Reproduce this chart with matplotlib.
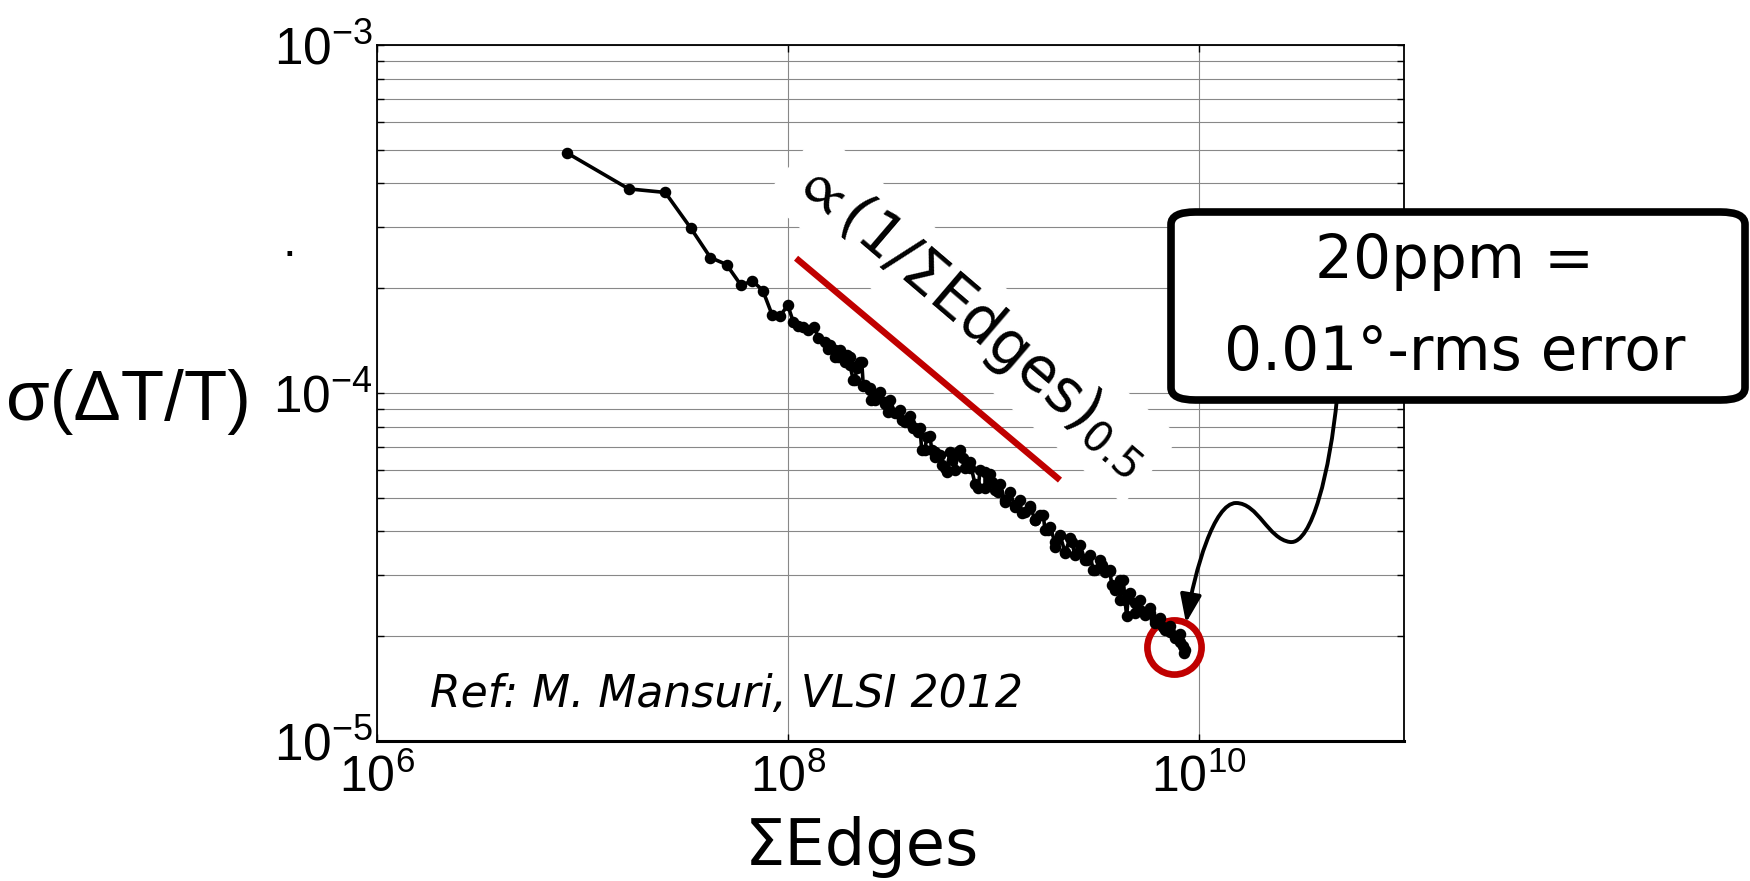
import numpy as np
import matplotlib.pyplot as plt
from matplotlib.patches import FancyBboxPatch, FancyArrowPatch
from matplotlib.path import Path
from matplotlib.ticker import LogLocator, NullFormatter, NullLocator

# sigma(dT/T) vs cumulative edges
edges = [8.40e6, 1.68e7, 2.53e7, 3.38e7, 4.20e7, 5.03e7, 5.92e7, 6.73e7,
         7.56e7, 8.41e7, 9.16e7, 9.99e7, 1.064e8, 1.125e8, 1.19e8, 1.259e8,
         1.346e8, 1.408e8, 1.518e8, 1.575e8, 1.697e8, 1.761e8, 1.936e8,
         2.009e8, 2.084e8, 2.165e8, 2.29e8, 2.331e8, 2.513e8, 2.55e8,
         2.759e8, 2.974e8, 3.086e8, 3.39e8, 3.585e8, 3.935e8, 4.083e8,
         4.318e8, 4.746e8, 4.488e8, 5.02e8, 5.21e8, 5.615e8, 5.938e8,
         6.281e8, 6.762e8, 7.151e8, 7.709e8, 8.462e8, 9.12e8, 9.83e8,
         1.059e9, 1.141e9, 1.277e9, 1.376e9, 1.511e9, 1.598e9, 1.753e9,
         1.854e9, 2.0e9, 2.237e9, 2.411e9, 2.55e9, 2.852e9, 3.072e9,
         3.375e9, 3.704e9, 3.775e9, 4.299e9, 4.143e9, 4.548e9, 4.90e9,
         4.466e9, 5.184e9, 5.80e9, 6.133e9, 6.731e9, 7.26e9, 7.824e9,
         8.12e9, 8.42e9, 8.45e9]
sigma = [4.90e-4, 3.86e-4, 3.77e-4, 2.97e-4, 2.45e-4, 2.34e-4, 2.04e-4, 2.10e-4,
         1.97e-4, 1.67e-4, 1.66e-4, 1.79e-4, 1.60e-4, 1.56e-4, 1.55e-4, 1.52e-4,
         1.55e-4, 1.44e-4, 1.40e-4, 1.34e-4, 1.33e-4, 1.27e-4, 1.29e-4,
         1.20e-4, 1.09e-4, 1.18e-4, 1.23e-4, 1.05e-4, 1.02e-4, 9.55e-5,
         9.87e-5, 9.44e-5, 8.84e-5, 8.74e-5, 8.36e-5, 8.18e-5, 7.92e-5,
         7.74e-5, 7.49e-5, 6.86e-5, 6.86e-5, 6.56e-5, 6.21e-5, 5.94e-5,
         6.42e-5, 6.78e-5, 6.49e-5, 6.08e-5, 5.32e-5, 5.94e-5, 5.56e-5,
         5.20e-5, 4.87e-5, 4.71e-5, 4.51e-5, 4.66e-5, 4.32e-5, 4.46e-5,
         4.04e-5, 3.62e-5, 3.46e-5, 3.74e-5, 3.46e-5, 3.31e-5, 3.10e-5,
         3.20e-5, 3.07e-5, 2.81e-5, 2.90e-5, 2.54e-5, 2.63e-5, 2.49e-5,
         2.28e-5, 2.38e-5, 2.33e-5, 2.18e-5, 2.13e-5, 2.06e-5, 1.99e-5,
         1.93e-5, 1.87e-5, 1.79e-5]

# extra samples inside the dense band (upper / lower edge of the scatter)
edges_band = [1.605e8, 1.697e8, 1.795e8, 1.899e8, 2.008e8, 2.124e8, 2.246e8, 2.376e8,
              2.513e8, 2.658e8, 2.811e8, 2.973e8, 3.145e8, 3.326e8, 3.518e8, 3.720e8,
              3.936e8, 4.162e8, 4.401e8, 4.656e8, 4.923e8, 5.208e8, 5.508e8, 5.825e8,
              6.161e8, 6.516e8, 6.892e8, 7.290e8, 7.709e8, 8.154e8, 8.623e8, 9.123e8,
              9.647e8, 1.020e9, 1.079e9, 1.141e9, 1.207e9, 1.277e9, 1.350e9, 1.428e9,
              1.511e9, 1.598e9, 1.690e9, 1.787e9, 1.890e9, 1.999e9, 2.114e9, 2.236e9,
              2.365e9, 2.502e9, 2.646e9, 2.798e9, 2.959e9, 3.131e9, 3.311e9, 3.502e9,
              3.703e9, 3.917e9, 4.142e9, 4.382e9, 4.634e9, 4.901e9, 5.183e9, 5.483e9,
              5.799e9, 6.133e9, 6.486e9, 6.860e9, 7.256e9, 7.674e9, 8.116e9, 8.585e9]
sigma_band = [1.373e-4, 1.269e-4, 1.329e-4, 1.228e-4, 1.269e-4, 1.090e-4, 1.228e-4, 1.054e-4,
              1.033e-4, 9.55e-5, 1.007e-4, 9.30e-5, 9.55e-5, 8.76e-5, 8.94e-5, 8.25e-5,
              8.59e-5, 7.93e-5, 7.93e-5, 6.86e-5, 7.52e-5, 6.77e-5, 6.63e-5, 6.09e-5,
              6.77e-5, 6.01e-5, 6.86e-5, 6.09e-5, 6.33e-5, 5.48e-5, 6.01e-5, 5.33e-5,
              5.85e-5, 5.26e-5, 5.48e-5, 4.93e-5, 5.19e-5, 4.77e-5, 4.93e-5, 4.55e-5,
              4.73e-5, 4.32e-5, 4.46e-5, 4.04e-5, 4.12e-5, 3.73e-5, 3.91e-5, 3.49e-5,
              3.83e-5, 3.42e-5, 3.66e-5, 3.31e-5, 3.42e-5, 3.10e-5, 3.31e-5, 3.06e-5,
              3.10e-5, 2.72e-5, 2.90e-5, 2.54e-5, 2.66e-5, 2.33e-5, 2.54e-5, 2.30e-5,
              2.41e-5, 2.23e-5, 2.26e-5, 2.08e-5, 2.14e-5, 1.98e-5, 2.03e-5, 1.83e-5]

# 1/sqrt(N) guide line and the highlighted end point
guide_x = [1.097e8, 2.114e9]
guide_y = [2.44e-4, 5.62e-5]
ring_x, ring_y = 7.59e9, 1.86e-5

W, H = 1750, 881
red = '#C00000'

plt.rcParams['font.family'] = ['Liberation Sans', 'DejaVu Sans']
plt.rcParams['axes.unicode_minus'] = False

# cumulative edge count is monotonic, so order all samples by it
ex = np.array(edges + edges_band)
sy = np.array(sigma + sigma_band)
order = np.argsort(ex, kind='stable')
ex, sy = ex[order], sy[order]

fig = plt.figure(figsize=(W / 100, H / 100), dpi=100)
ax = fig.add_axes([377 / W, 1 - 741 / H, (1404 - 377) / W, (741 - 45) / H])
ax.set_xscale('log')
ax.set_yscale('log')
ax.set_xlim(1e6, 1e11)
ax.set_ylim(1e-5, 1e-3)
ax.set_xticks([1e6, 1e8, 1e10])
ax.xaxis.set_minor_locator(NullLocator())
ax.yaxis.set_major_locator(LogLocator(10))
ax.yaxis.set_minor_locator(LogLocator(10, subs=np.arange(2, 10)))
ax.yaxis.set_minor_formatter(NullFormatter())
ax.set_axisbelow(True)
ax.grid(True, which='major', color='#888888', lw=0.8)
ax.grid(True, which='minor', axis='y', color='#888888', lw=0.8)
ax.tick_params(which='both', direction='in', top=True, right=True,
               length=5, width=1.0, color='black')
ax.tick_params(axis='y', pad=3, labelsize=37)
ax.tick_params(axis='x', pad=9, labelsize=36)
for side in ['left', 'right', 'top']:
    ax.spines[side].set_linewidth(1.3)
ax.spines['bottom'].set_linewidth(2.2)

ax.plot(ring_x, ring_y, 'o', ms=39, mfc='none', mec=red, mew=4.8, zorder=4)
ax.plot(ex, sy, '-o', color='black', lw=2.6, ms=7.3, zorder=5)
ax.plot(guide_x, guide_y, color=red, lw=4.6, solid_capstyle='butt', zorder=4)

ax.text(972 / W, 1 - 317 / H, r'$\propto$(1/' + '\u03a3' + r'Edges)$_{\mathdefault{0.5}}$',
        transform=fig.transFigure, rotation=-40.5, rotation_mode='anchor',
        ha='center', va='center', fontsize=43, family='DejaVu Sans',
        math_fontfamily='stixsans',
        bbox=dict(facecolor='white', edgecolor='none', pad=9), zorder=3)

fig.text(430 / W, 1 - 707 / H, 'Ref: M. Mansuri, VLSI 2012', fontsize=31.8,
         family='DejaVu Sans', style='italic', ha='left', va='baseline')

fig.text(128 / W, 1 - 420 / H, '\u03c3(\u0394T/T)', fontsize=51, ha='center', va='baseline')
fig.text(862 / W, 1 - 865 / H, '\u03a3Edges', fontsize=46, family='DejaVu Sans',
         ha='center', va='baseline')
fig.text(289 / W, 1 - 256 / H, '.', fontsize=35, ha='center', va='baseline')

# call-out box
box = FancyBboxPatch((1171 / W, 1 - 400 / H), (1745 - 1171) / W, (400 - 212) / H,
                     boxstyle='round,pad=0,rounding_size=0.014', transform=fig.transFigure,
                     facecolor='white', edgecolor='black', lw=5.5, zorder=10)
fig.add_artist(box)
fig.text(1455 / W, 1 - 278 / H, '20ppm =', fontsize=43, family='DejaVu Sans',
         ha='center', va='baseline', zorder=11)
fig.text(1455 / W, 1 - 370 / H, '0.01\u00b0-rms error', fontsize=43, family='DejaVu Sans',
         ha='center', va='baseline', zorder=11)

pts = [(1337, 398), (1330, 470), (1312, 545), (1290, 542),
       (1268, 539), (1258, 503), (1236, 503),
       (1214, 503), (1195, 570), (1186, 623)]
verts = [(x / W, 1 - y / H) for x, y in pts]
codes = [Path.MOVETO] + [Path.CURVE4] * 9
arrow = FancyArrowPatch(path=Path(verts, codes), arrowstyle='-|>,head_length=0.85,head_width=0.32',
                        mutation_scale=20, color='black', lw=2.8, transform=fig.transFigure,
                        zorder=9)
fig.add_artist(arrow)

fig.savefig('out.png', dpi=100)
